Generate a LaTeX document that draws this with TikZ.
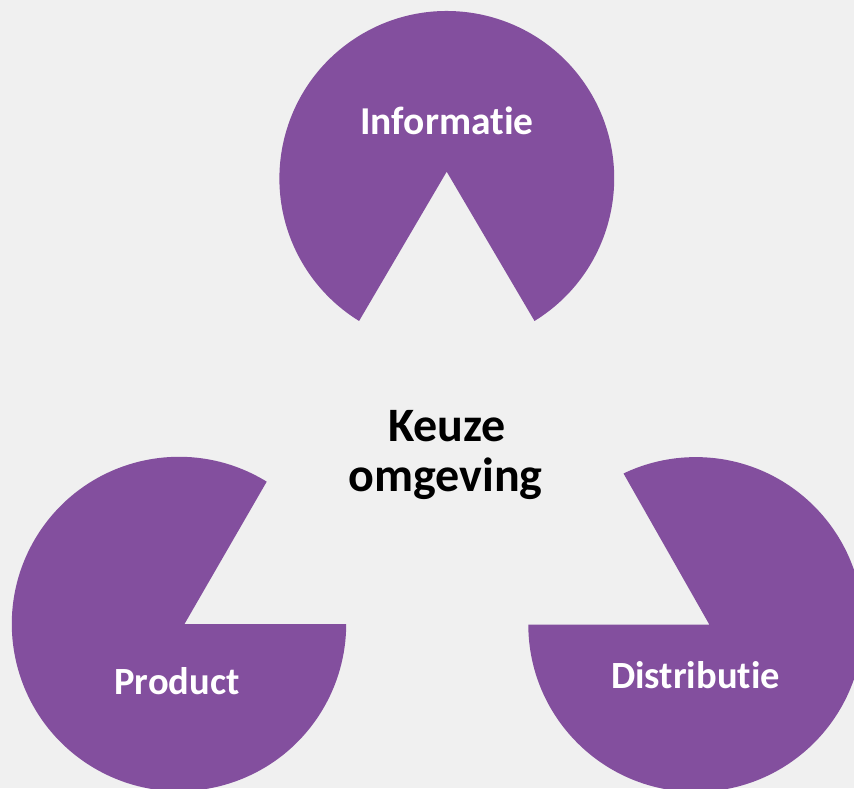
\documentclass[tikz,border=0pt]{standalone}
\usepackage{fontspec}
\setmainfont{Carlito}[Ligatures={NoCommon}]
\definecolor{bgc}{RGB}{240,240,240}
\definecolor{pie}{RGB}{131,79,158}
\begin{document}
\begin{tikzpicture}[x=1pt,y=1pt,
  piefill/.style={fill=pie},
  lbl/.style={text=white,font=\fontsize{38.5}{46}\selectfont\bfseries,anchor=base,inner sep=0pt},
  ctr/.style={text=black,font=\fontsize{48}{52}\selectfont\bfseries,anchor=base,inner sep=0pt}]
\fill[bgc] (0,0) rectangle (854,788);
\useasboundingbox (0,0) rectangle (854,788);
% top pie
\fill[piefill] (446.7,616.3) -- ([shift={(446.8,609.6)}]301.6:167.4) arc[start angle=301.6,end angle=598.4,radius=167.4] -- cycle;
% bottom-left pie
\fill[piefill] (184.5,164) -- ([shift={(179,164)}]58.36:167.2) arc[start angle=58.36,end angle=360,radius=167.2] -- cycle;
% bottom-right pie
\fill[piefill] (709.3,163.5) -- ([shift={(695.7,163.5)}]180:167.4) arc[start angle=180,end angle=475.55,radius=167.4] -- cycle;
\node[lbl,font=\fontsize{39.5}{46}\selectfont\bfseries] (info) at (447,653) {Informatie};
\node[lbl] (prod) at (177,94) {Product};
\node[lbl] (dist) at (695.5,100) {Distributie};
\node[ctr] (k1) at (447,346.3) {Keuze};
\node[ctr] (k2) at (445.5,296.3) {omgeving};
\end{tikzpicture}
\end{document}
